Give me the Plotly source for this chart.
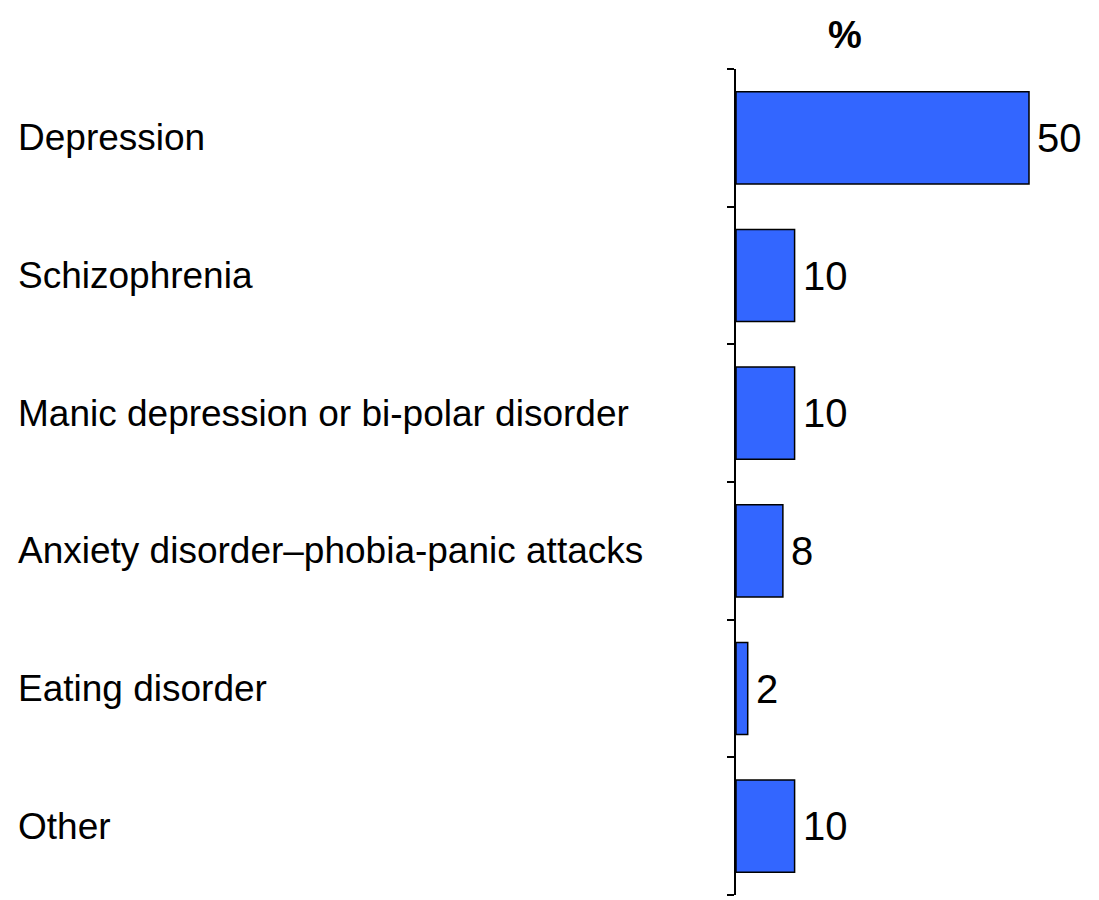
import plotly.graph_objects as go

categories = ['Depression', 'Schizophrenia', 'Manic depression or bi-polar disorder',
              'Anxiety disorder\u2013phobia-panic attacks', 'Eating disorder', 'Other']
values = [50, 10, 10, 8, 2, 10]
unit_label = '%'

font_family = 'Arial, Liberation Sans, sans-serif'

# page body has an 8px margin, so the figure is drawn 8px in and down
OFF = 8
W, H = 1099 - OFF, 900 - OFF
left, right, top, bottom = 736 - OFF, 0, 69 - OFF, 5
plot_w = W - left - right
plot_h = H - top - bottom

n = len(categories)
pos = list(range(n))  # category slots, top to bottom

bars = go.Bar(
    x=values, y=pos, orientation='h', customdata=categories,
    marker=dict(color='#3366FF', line=dict(color='black', width=1.5)),
    cliponaxis=False, width=0.67, hovertemplate='%{customdata}: %{x}<extra></extra>',
)

annotations = []
for i, cat in zip(pos, categories):  # left-aligned category labels
    annotations.append(dict(xref='paper', yref='y', x=(16 - 736) / plot_w, y=i,
                            xanchor='left', yanchor='middle', text=cat, showarrow=False,
                            font=dict(family=font_family, size=37, color='black')))

for i, v in zip(pos, values):  # value labels just past the bar ends
    annotations.append(dict(xref='x', yref='y', x=v, y=i, xanchor='left', yanchor='middle',
                            xshift=6, text=str(v), showarrow=False,
                            font=dict(family=font_family, size=40, color='black')))

annotations.append(dict(xref='paper', yref='paper', x=(845 - 736) / plot_w, y=1 + (69 - 35) / plot_h,
                        xanchor='center', yanchor='middle', text='<b>' + unit_label + '</b>', showarrow=False,
                        font=dict(family=font_family, size=38, color='black')))

layout = go.Layout(
    width=W, height=H,
    margin=dict(l=left, r=right, t=top, b=bottom),
    paper_bgcolor='white', plot_bgcolor='white',
    xaxis=dict(visible=False, range=[0, plot_w / 5.86]),
    # ticks on every category boundary, including both ends
    yaxis=dict(range=[n - 0.5, -0.5], tickmode='array', tickvals=[i - 0.5 for i in range(n + 1)],
               showticklabels=False, ticks='outside', ticklen=7,
               tickcolor='black', tickwidth=2, showline=True, linecolor='black', linewidth=2,
               showgrid=False, zeroline=False),
    annotations=annotations,
    showlegend=False,
)

fig = go.Figure(data=[bars], layout=layout)
fig.write_html('out.html')
